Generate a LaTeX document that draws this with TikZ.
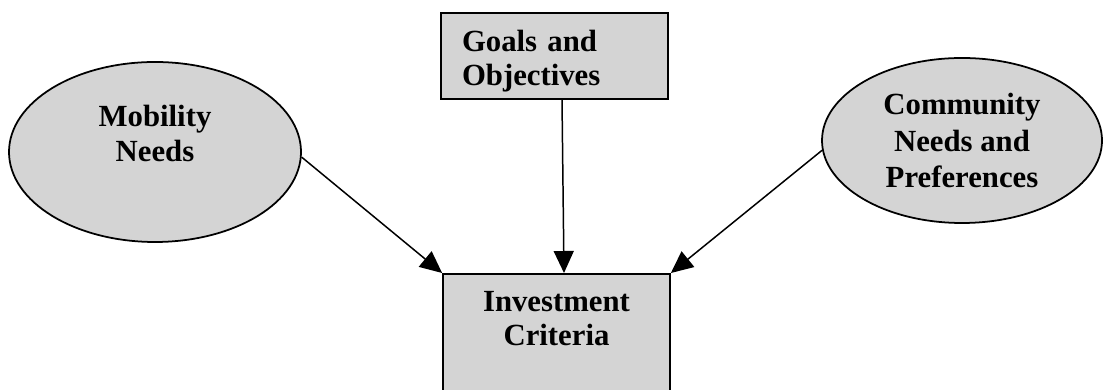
\documentclass[tikz,border=0pt]{standalone}
\usepackage{fontspec}
\setmainfont{Liberation Serif}
\usetikzlibrary{shapes.geometric,arrows.meta}

\begin{document}
\begin{tikzpicture}[thick,
    main/.style = {draw, line width=1pt, fill=black!17, font=\fontsize{17.5}{19.5}\selectfont\bfseries, align=center},
    oval/.style = {main, ellipse, inner sep=0pt},
    block/.style = {main, rectangle, minimum width=4.54cm, inner ysep=0.35cm, anchor=north},
    link/.style = {-{Triangle[length=0.44cm,width=0.4cm]}, line width=0.85pt}]
    \useasboundingbox (0,0) rectangle (22.06,7.8);
    \node[oval, minimum width=5.84cm, minimum height=3.6cm, text depth=0.75cm] (mobility) at (3.10,4.76) {Mobility\\Needs};
    \node[block, text width=3.7cm, inner xsep=0.42cm, align=left, text depth=0.6cm] (goals) at (11.09,7.56) {Goals and\\Objectives};
    \node[oval, minimum width=5.6cm, minimum height=3.3cm, font=\fontsize{17.5}{21}\selectfont\bfseries] (community) at (19.24,4.99) {Community\\Needs and\\Preferences};
    \node[block, text depth=2.5cm] (invest) at (11.13,2.34) {Investment\\Criteria};
    \draw[link] (mobility.-2) -- (invest.north west);
    \draw[link] ([xshift=0.15cm]goals.south) -- ([xshift=0.15cm]invest.north);
    \draw[link] (community.184) -- (invest.north east);
\end{tikzpicture}
\end{document}
